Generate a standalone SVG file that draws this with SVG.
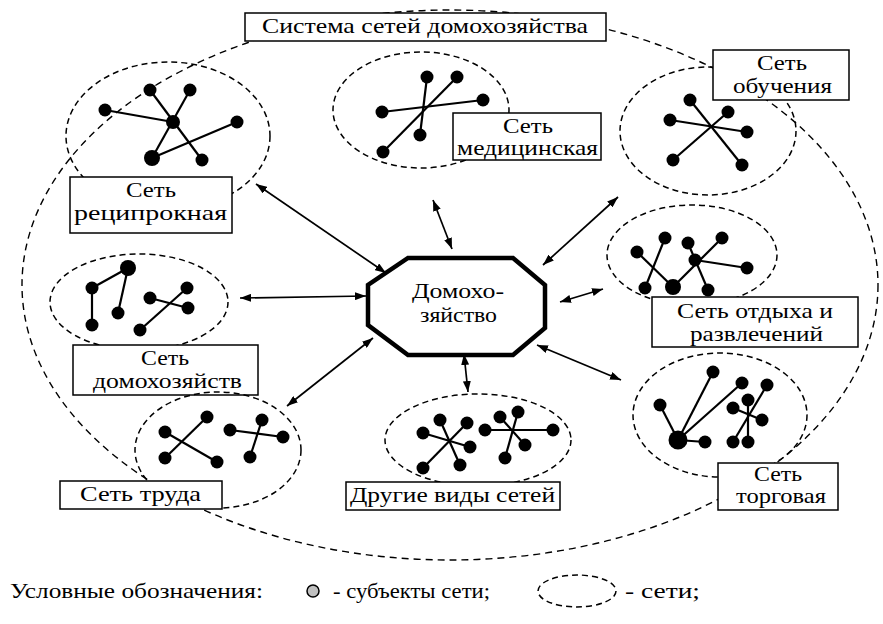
<svg xmlns="http://www.w3.org/2000/svg" width="883" height="624" viewBox="0 0 883 624">
<style>
.t{font-size:21px;fill:#000}
.dash{fill:none;stroke:#000;stroke-width:1.5;stroke-dasharray:6 4}
.outer{fill:none;stroke:#000;stroke-width:1.4;stroke-dasharray:7 5}
.box{fill:#fff;stroke:#000;stroke-width:1.5}
.e{stroke:#000;stroke-width:2.2;fill:none}
.n{fill:#000}
.arr{stroke:#000;stroke-width:1.7;fill:none;marker-start:url(#ah);marker-end:url(#ah)}
</style>
<defs>
<marker id="ah" viewBox="0 0 11 8" refX="11" refY="4" markerWidth="11" markerHeight="8" markerUnits="userSpaceOnUse" orient="auto-start-reverse">
<path d="M0,0 L11,4 L0,8 Z" fill="#000"/>
</marker>
</defs>
<rect width="883" height="624" fill="#fff"/>

<ellipse class="outer" cx="450" cy="285" rx="428" ry="275"/>

<g id="connectors">
<line class="arr" x1="256" y1="184" x2="386" y2="273"/>
<line class="arr" x1="433" y1="200" x2="452" y2="249"/>
<line class="arr" x1="618" y1="197" x2="543" y2="265"/>
<line class="arr" x1="240" y1="298" x2="366" y2="296"/>
<line class="arr" x1="560" y1="302" x2="603" y2="289"/>
<line class="arr" x1="287" y1="406" x2="373" y2="338"/>
<line class="arr" x1="464" y1="354" x2="468" y2="392"/>
<line class="arr" x1="537" y1="345" x2="621" y2="380"/>
</g>

<g font-family="Liberation Serif, DejaVu Serif, serif">
<g id="title">
<rect class="box" x="245" y="13" width="361" height="28"/>
<text class="t" x="262" y="33" textLength="326" lengthAdjust="spacingAndGlyphs">Система сетей домохозяйства</text>
</g>

<g id="household">
<polygon points="408,258 513,258 545,285 545,328 513,355 408,355 368,325 368,285" fill="#fff" stroke="#000" stroke-width="4.5"/>
<text class="t" x="412" y="298" textLength="92" lengthAdjust="spacingAndGlyphs">Домохо-</text>
<text class="t" x="420" y="322" textLength="77" lengthAdjust="spacingAndGlyphs">зяйство</text>
</g>

<g id="net-reciprocal">
<ellipse class="dash" cx="168" cy="136" rx="102" ry="74"/>
<line class="e" x1="150" y1="90" x2="202" y2="160"/>
<line class="e" x1="190" y1="90" x2="152" y2="158"/>
<line class="e" x1="105" y1="110" x2="173" y2="122"/>
<line class="e" x1="152" y1="158" x2="237" y2="122"/>
<circle class="n" cx="173" cy="122" r="7"/>
<circle class="n" cx="150" cy="90" r="6.5"/>
<circle class="n" cx="190" cy="90" r="6.5"/>
<circle class="n" cx="105" cy="110" r="6.5"/>
<circle class="n" cx="237" cy="122" r="6.5"/>
<circle class="n" cx="152" cy="158" r="8"/>
<circle class="n" cx="202" cy="160" r="6.5"/>
<rect class="box" x="70" y="177" width="162" height="56"/>
<text class="t" x="126" y="197" textLength="50" lengthAdjust="spacingAndGlyphs">Сеть</text>
<text class="t" x="74" y="220" textLength="153" lengthAdjust="spacingAndGlyphs">реципрокная</text>
</g>

<g id="net-medical">
<ellipse class="dash" cx="421" cy="110" rx="88" ry="58"/>
<line class="e" x1="427" y1="77" x2="420" y2="135"/>
<line class="e" x1="457" y1="77" x2="383" y2="152"/>
<line class="e" x1="382" y1="112" x2="483" y2="100"/>
<circle class="n" cx="427" cy="77" r="6.5"/>
<circle class="n" cx="457" cy="77" r="6.5"/>
<circle class="n" cx="483" cy="100" r="6.5"/>
<circle class="n" cx="382" cy="112" r="6.5"/>
<circle class="n" cx="420" cy="135" r="6.5"/>
<circle class="n" cx="383" cy="152" r="6.5"/>
<rect class="box" x="453" y="113" width="148" height="47"/>
<text class="t" x="503" y="133" textLength="50" lengthAdjust="spacingAndGlyphs">Сеть</text>
<text class="t" x="457" y="155" textLength="141" lengthAdjust="spacingAndGlyphs">медицинская</text>
</g>

<g id="net-education">
<ellipse class="dash" cx="708" cy="131" rx="88" ry="64"/>
<line class="e" x1="690" y1="100" x2="742" y2="165"/>
<line class="e" x1="728" y1="112" x2="673" y2="160"/>
<line class="e" x1="670" y1="120" x2="747" y2="132"/>
<circle class="n" cx="690" cy="100" r="6.5"/>
<circle class="n" cx="728" cy="112" r="6.5"/>
<circle class="n" cx="670" cy="120" r="6.5"/>
<circle class="n" cx="747" cy="132" r="6.5"/>
<circle class="n" cx="673" cy="160" r="6.5"/>
<circle class="n" cx="742" cy="165" r="6.5"/>
<rect class="box" x="713" y="50" width="136" height="50"/>
<text class="t" x="757" y="70" textLength="50" lengthAdjust="spacingAndGlyphs">Сеть</text>
<text class="t" x="733" y="93" textLength="99" lengthAdjust="spacingAndGlyphs">обучения</text>
</g>

<g id="net-households">
<ellipse class="dash" cx="139" cy="302" rx="89" ry="48"/>
<line class="e" x1="92" y1="288" x2="128" y2="268"/>
<line class="e" x1="92" y1="288" x2="92" y2="325"/>
<line class="e" x1="128" y1="268" x2="118" y2="313"/>
<line class="e" x1="150" y1="298" x2="188" y2="308"/>
<line class="e" x1="187" y1="288" x2="140" y2="330"/>
<circle class="n" cx="128" cy="268" r="8"/>
<circle class="n" cx="92" cy="288" r="6.5"/>
<circle class="n" cx="92" cy="325" r="6.5"/>
<circle class="n" cx="118" cy="313" r="6.5"/>
<circle class="n" cx="150" cy="298" r="6.5"/>
<circle class="n" cx="187" cy="288" r="6.5"/>
<circle class="n" cx="188" cy="308" r="6.5"/>
<circle class="n" cx="140" cy="330" r="6.5"/>
<rect class="box" x="73" y="345" width="185" height="50"/>
<text class="t" x="141" y="365" textLength="48" lengthAdjust="spacingAndGlyphs">Сеть</text>
<text class="t" x="93" y="388" textLength="149" lengthAdjust="spacingAndGlyphs">домохозяйств</text>
</g>

<g id="net-leisure">
<ellipse class="dash" cx="692" cy="255" rx="85" ry="50"/>
<line class="e" x1="637" y1="252" x2="673" y2="287"/>
<line class="e" x1="665" y1="238" x2="645" y2="288"/>
<line class="e" x1="673" y1="287" x2="722" y2="238"/>
<line class="e" x1="688" y1="243" x2="708" y2="290"/>
<line class="e" x1="695" y1="260" x2="747" y2="268"/>
<circle class="n" cx="637" cy="252" r="6.5"/>
<circle class="n" cx="665" cy="238" r="6.5"/>
<circle class="n" cx="688" cy="243" r="6.5"/>
<circle class="n" cx="722" cy="238" r="6.5"/>
<circle class="n" cx="695" cy="260" r="6.5"/>
<circle class="n" cx="747" cy="268" r="6.5"/>
<circle class="n" cx="645" cy="288" r="6.5"/>
<circle class="n" cx="673" cy="287" r="8"/>
<circle class="n" cx="708" cy="290" r="6.5"/>
<rect class="box" x="652" y="297" width="206" height="50"/>
<text class="t" x="677" y="318" textLength="156" lengthAdjust="spacingAndGlyphs">Сеть отдыха и</text>
<text class="t" x="690" y="341" textLength="133" lengthAdjust="spacingAndGlyphs">развлечений</text>
</g>

<g id="net-labour">
<ellipse class="dash" cx="218" cy="450" rx="83" ry="58"/>
<line class="e" x1="165" y1="432" x2="217" y2="462"/>
<line class="e" x1="207" y1="417" x2="165" y2="458"/>
<line class="e" x1="230" y1="430" x2="283" y2="437"/>
<line class="e" x1="262" y1="420" x2="250" y2="457"/>
<circle class="n" cx="165" cy="432" r="6.5"/>
<circle class="n" cx="207" cy="417" r="6.5"/>
<circle class="n" cx="165" cy="458" r="6.5"/>
<circle class="n" cx="217" cy="462" r="6.5"/>
<circle class="n" cx="230" cy="430" r="6.5"/>
<circle class="n" cx="262" cy="420" r="6.5"/>
<circle class="n" cx="283" cy="437" r="6.5"/>
<circle class="n" cx="250" cy="457" r="6.5"/>
<rect class="box" x="60" y="481" width="162" height="28"/>
<text class="t" x="80" y="501" textLength="121" lengthAdjust="spacingAndGlyphs">Сеть труда</text>
</g>

<g id="net-other">
<ellipse class="dash" cx="478" cy="440" rx="93" ry="46"/>
<line class="e" x1="440" y1="420" x2="460" y2="465"/>
<line class="e" x1="467" y1="423" x2="423" y2="468"/>
<line class="e" x1="423" y1="433" x2="470" y2="447"/>
<line class="e" x1="485" y1="430" x2="553" y2="430"/>
<line class="e" x1="500" y1="417" x2="525" y2="445"/>
<line class="e" x1="518" y1="412" x2="505" y2="458"/>
<circle class="n" cx="440" cy="420" r="6.5"/>
<circle class="n" cx="467" cy="423" r="6.5"/>
<circle class="n" cx="423" cy="433" r="6.5"/>
<circle class="n" cx="470" cy="447" r="6.5"/>
<circle class="n" cx="423" cy="468" r="6.5"/>
<circle class="n" cx="460" cy="465" r="6.5"/>
<circle class="n" cx="500" cy="417" r="6.5"/>
<circle class="n" cx="518" cy="412" r="6.5"/>
<circle class="n" cx="485" cy="430" r="6.5"/>
<circle class="n" cx="553" cy="430" r="6.5"/>
<circle class="n" cx="525" cy="445" r="6.5"/>
<circle class="n" cx="505" cy="458" r="6.5"/>
<rect class="box" x="346" y="482" width="214" height="28"/>
<text class="t" x="350" y="502" textLength="205" lengthAdjust="spacingAndGlyphs">Другие виды сетей</text>
</g>

<g id="net-trade">
<ellipse class="dash" cx="720" cy="415" rx="87" ry="62"/>
<line class="e" x1="678" y1="440" x2="713" y2="372"/>
<line class="e" x1="678" y1="440" x2="742" y2="383"/>
<line class="e" x1="678" y1="440" x2="660" y2="405"/>
<line class="e" x1="678" y1="440" x2="705" y2="442"/>
<line class="e" x1="767" y1="385" x2="733" y2="442"/>
<line class="e" x1="748" y1="400" x2="748" y2="442"/>
<line class="e" x1="733" y1="408" x2="762" y2="420"/>
<circle class="n" cx="713" cy="372" r="6.5"/>
<circle class="n" cx="742" cy="383" r="6.5"/>
<circle class="n" cx="767" cy="385" r="6.5"/>
<circle class="n" cx="660" cy="405" r="6.5"/>
<circle class="n" cx="748" cy="400" r="6.5"/>
<circle class="n" cx="733" cy="408" r="6.5"/>
<circle class="n" cx="762" cy="420" r="6.5"/>
<circle class="n" cx="678" cy="440" r="9.5"/>
<circle class="n" cx="705" cy="442" r="6.5"/>
<circle class="n" cx="733" cy="442" r="6.5"/>
<circle class="n" cx="748" cy="442" r="6.5"/>
<rect class="box" x="718" y="463" width="120" height="47"/>
<text class="t" x="754" y="481" textLength="48" lengthAdjust="spacingAndGlyphs">Сеть</text>
<text class="t" x="736" y="503" textLength="90" lengthAdjust="spacingAndGlyphs">торговая</text>
</g>

<g id="legend">
<text class="t" x="10" y="598" textLength="253" lengthAdjust="spacingAndGlyphs">Условные обозначения:</text>
<circle cx="313" cy="591" r="6" fill="#c0c0c0" stroke="#000" stroke-width="1.5"/>
<text class="t" x="333" y="598" textLength="157" lengthAdjust="spacingAndGlyphs">-  субъекты сети;</text>
<ellipse class="dash" cx="577" cy="591" rx="39" ry="16"/>
<text class="t" x="625" y="598" textLength="75" lengthAdjust="spacingAndGlyphs">- сети;</text>
</g>
</g>
</svg>
